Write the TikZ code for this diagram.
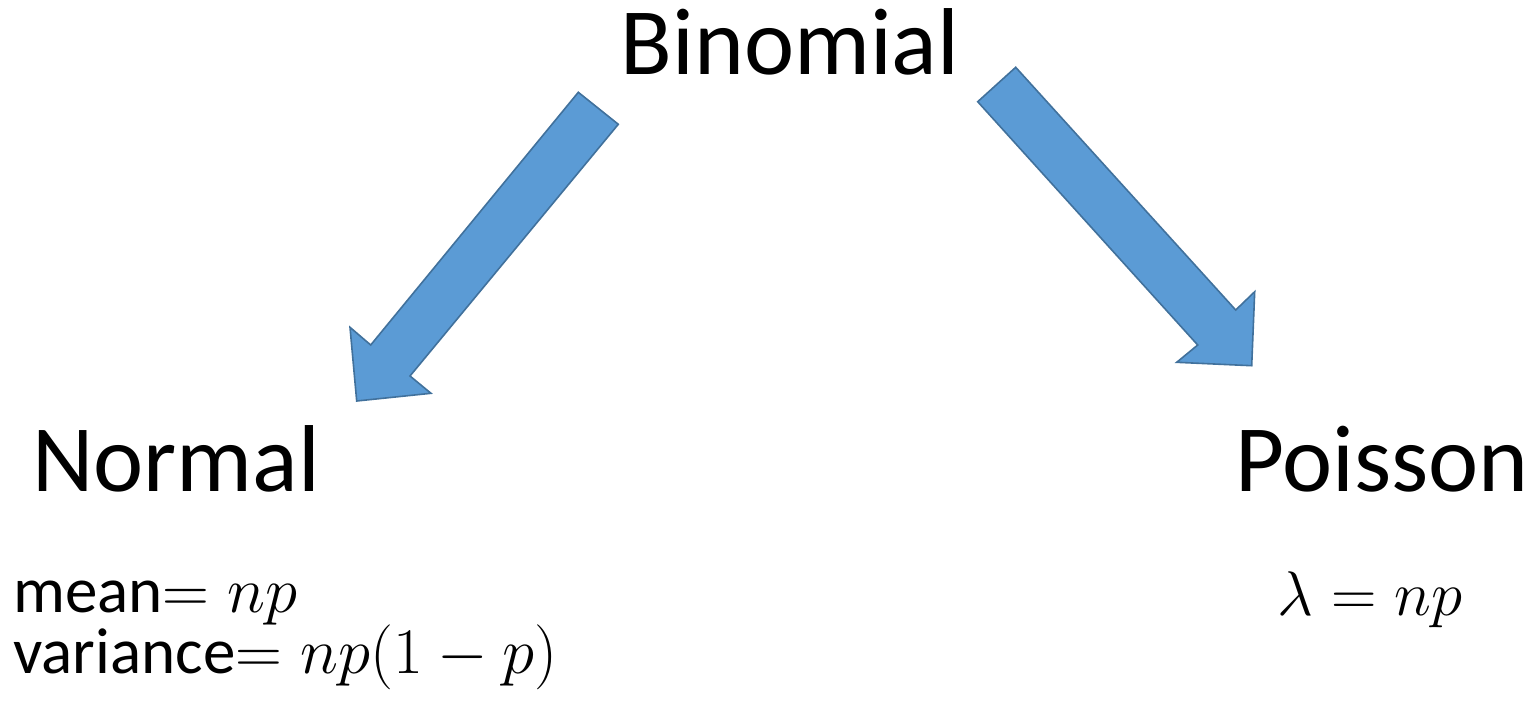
\documentclass[tikz,border=0pt]{standalone}
\usepackage{fix-cm}
\usepackage[no-math]{fontspec}
\setmainfont{Carlito}
\begin{document}
\begin{tikzpicture}[x=1pt,y=-1pt,
  blockarrow/.style={fill=arrowfill,draw=arrowedge,line width=1.6pt,line join=miter},
  big/.style={inner sep=0pt,font=\fontsize{95}{110}\selectfont},
  small/.style={inner sep=0pt,font=\fontsize{65}{74}\selectfont},
  lamstyle/.style={inner sep=0pt,font=\fontsize{63}{72}\selectfont}]
\definecolor{arrowfill}{HTML}{5B9BD5}
\definecolor{arrowedge}{HTML}{41719C}
\useasboundingbox (0,0) rectangle (1537,705);
\node[big,anchor=base] (binom) at (790,74) {Binomial};
\node[big,anchor=base west] (normal) at (32,491) {Normal};
\node[big,anchor=base east] (poisson) at (1529,491) {Poisson};
\node[small,anchor=base west] (mean) at (13,612) {mean$=np$};
\node[small,anchor=base west] (var) at (13,673) {variance$=np(1-p)$};
\node[lamstyle,anchor=base] (lam) at (1370,615) {$\lambda=np$};
% left arrow
\coordinate (l1) at (578.3,92.3);
\coordinate (l2) at (618.3,124.3);
\coordinate (l3) at (410,376);
\coordinate (l4) at (431,393.3);
\coordinate (l5) at (356.7,401);
\coordinate (l6) at (350,327.3);
\coordinate (l7) at (370.7,345);
\filldraw[blockarrow] (l1) -- (l2) -- (l3) -- (l4) -- (l5) -- (l6) -- (l7) -- cycle;
% right arrow
\coordinate (r1) at (977.7,101.7);
\coordinate (r2) at (1015.7,67.3);
\coordinate (r3) at (1235.7,310);
\coordinate (r4) at (1254.7,291.7);
\coordinate (r5) at (1251.7,365.7);
\coordinate (r6) at (1176.7,362.3);
\coordinate (r7) at (1197.7,345);
\filldraw[blockarrow] (r1) -- (r2) -- (r3) -- (r4) -- (r5) -- (r6) -- (r7) -- cycle;
\end{tikzpicture}
\end{document}
